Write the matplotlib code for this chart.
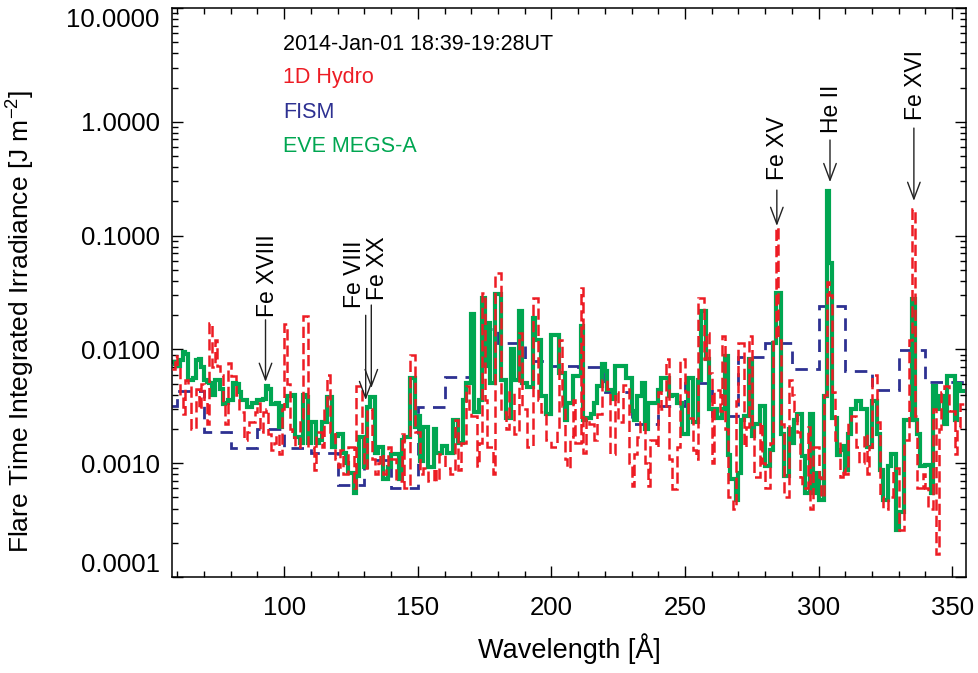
import numpy as np
import matplotlib
matplotlib.use("Agg")
import matplotlib.pyplot as plt
from matplotlib.ticker import FixedLocator, LogLocator, NullFormatter, MultipleLocator

plt.rcParams['font.family'] = ['Liberation Sans', 'DejaVu Sans']
plt.rcParams['mathtext.default'] = 'regular'

# ---------------- data ----------------
wl_start = 58  # first 1-A bin of the EVE / 1D Hydro spectra

eve_megs_a = [
    0.0077, 0.0075, 0.0072, 0.0080, 0.0095, 0.0092, 0.0054, 0.0054, 0.0056, 0.0080,
    0.0082, 0.0070, 0.0054, 0.0052, 0.0051, 0.0040, 0.0054, 0.0054, 0.0045, 0.0033,
    0.0034, 0.0036, 0.0036, 0.0051, 0.0050, 0.0042, 0.0036, 0.0036, 0.0031, 0.0031,
    0.0034, 0.0034, 0.0036, 0.0036, 0.0037, 0.0048, 0.0045, 0.0033, 0.0033, 0.0034,
    0.0021, 0.0032, 0.0032, 0.0039, 0.0039, 0.0040, 0.0017, 0.0017, 0.0015, 0.0040,
    0.0038, 0.0015, 0.0023, 0.0023, 0.0015, 0.0016, 0.0023, 0.0023, 0.0038, 0.0038,
    0.0014, 0.00175, 0.0018, 0.0018, 0.00123, 0.0010, 0.00082, 0.00082, 0.00055, 0.00078,
    0.0017, 0.0017, 0.00093, 0.0031, 0.0038, 0.0038, 0.00122, 0.0014, 0.0014, 0.00072,
    0.00072, 0.00093, 0.0012, 0.0012, 0.0012, 0.00072, 0.0016, 0.0017, 0.0017, 0.0056,
    0.0056, 0.0021, 0.0026, 0.00105, 0.0021, 0.0021, 0.00093, 0.00093, 0.0020, 0.00122,
    0.00122, 0.00141, 0.00141, 0.00123, 0.00123, 0.0024, 0.0024, 0.0015, 0.0015, 0.0036,
    0.0051, 0.0051, 0.0203, 0.0028, 0.0028, 0.0036, 0.0285, 0.0071, 0.017, 0.0051,
    0.0051, 0.0305, 0.0305, 0.0054, 0.0054, 0.0025, 0.0025, 0.010, 0.0054, 0.0054,
    0.0217, 0.0051, 0.0051, 0.0047, 0.0047, 0.019, 0.0122, 0.0122, 0.0039, 0.0039,
    0.0027, 0.0027, 0.0135, 0.0135, 0.0135, 0.0062, 0.0062, 0.0024, 0.0034, 0.0034,
    0.0058, 0.0058, 0.0058, 0.016, 0.0024, 0.0025, 0.0025, 0.0027, 0.0034, 0.0048,
    0.0048, 0.0074, 0.0064, 0.0044, 0.0044, 0.0037, 0.0072, 0.0072, 0.0072, 0.0072,
    0.0056, 0.0056, 0.0029, 0.0024, 0.0039, 0.0039, 0.0051, 0.0020, 0.0034, 0.0034,
    0.0034, 0.0034, 0.0044, 0.0056, 0.0056, 0.0056, 0.0039, 0.0040, 0.0040, 0.0034,
    0.0034, 0.0018, 0.0018, 0.0056, 0.0056, 0.0023, 0.0023, 0.0054, 0.0217, 0.0217,
    0.0082, 0.0030, 0.0030, 0.0030, 0.0025, 0.0025, 0.0030, 0.0087, 0.00119, 0.00072,
    0.00072, 0.00048, 0.00082, 0.0024, 0.0026, 0.0026, 0.0082, 0.00173, 0.0022, 0.0022,
    0.0032, 0.0032, 0.00094, 0.00094, 0.0013, 0.0114, 0.0316, 0.0316, 0.0018, 0.00077,
    0.00077, 0.0020, 0.0015, 0.0024, 0.0027, 0.0027, 0.00115, 0.00055, 0.00055, 0.0027,
    0.00055, 0.00082, 0.00048, 0.00048, 0.0039, 0.246, 0.058, 0.0025, 0.0025, 0.00118,
    0.0013, 0.00141, 0.00088, 0.0018, 0.0030, 0.0030, 0.0035, 0.0035, 0.0030, 0.0030,
    0.0014, 0.0014, 0.0035, 0.0035, 0.0018, 0.00088, 0.00048, 0.00048, 0.00094, 0.0012,
    0.0012, 0.00026, 0.00037, 0.00037, 0.0024, 0.0024, 0.0024, 0.0275, 0.0024, 0.0018,
    0.00094, 0.00094, 0.00096, 0.00096, 0.00055, 0.0048, 0.0030, 0.0039, 0.0039, 0.0022,
    0.0058, 0.0058, 0.0058, 0.0024, 0.0050, 0.0043, 0.0043,
]

hydro_1d = [
    0.0067, 0.0088, 0.0070, 0.0040, 0.0027, 0.0054, 0.0050, 0.0020, 0.0020, 0.0045,
    0.0030, 0.0050, 0.0035, 0.0022, 0.0171, 0.0070, 0.0122, 0.0071, 0.0060, 0.0033,
    0.0022, 0.0076, 0.0058, 0.0058, 0.0040, 0.0028, 0.0028, 0.0016, 0.0019, 0.0023,
    0.0023, 0.0028, 0.0034, 0.0019, 0.0028, 0.0030, 0.0018, 0.0013, 0.0015, 0.0018,
    0.0012, 0.0030, 0.0166, 0.0050, 0.0020, 0.0017, 0.0014, 0.0014, 0.0025, 0.0196,
    0.0196, 0.0014, 0.0014, 0.00088, 0.0019, 0.0019, 0.0014, 0.0030, 0.0060, 0.0019,
    0.0019, 0.0011, 0.00093, 0.0013, 0.0008, 0.0008, 0.0014, 0.0014, 0.0006, 0.0048,
    0.0048, 0.0017, 0.0009, 0.0030, 0.0030, 0.0011, 0.0008, 0.0010, 0.0012, 0.0008,
    0.0009, 0.0014, 0.0011, 0.0011, 0.0007, 0.0007, 0.0018, 0.0006, 0.0006, 0.0090,
    0.0090, 0.0019, 0.0019, 0.0008, 0.0009, 0.0009, 0.0007, 0.0007, 0.0009, 0.0007,
    0.0012, 0.0012, 0.0009, 0.0009, 0.0008, 0.0008, 0.0024, 0.00088, 0.0015, 0.0015,
    0.0048, 0.0028, 0.0026, 0.0026, 0.00094, 0.0015, 0.0316, 0.0036, 0.0014, 0.0014,
    0.0008, 0.0473, 0.0473, 0.0028, 0.0028, 0.0020, 0.0042, 0.0042, 0.0018, 0.0018,
    0.0140, 0.0030, 0.0030, 0.0014, 0.0014, 0.0285, 0.0285, 0.0036, 0.0028, 0.0028,
    0.0016, 0.0016, 0.0014, 0.0014, 0.0020, 0.0122, 0.0032, 0.0011, 0.0009, 0.0017,
    0.0036, 0.0015, 0.0015, 0.0348, 0.00124, 0.0025, 0.0022, 0.0022, 0.0016, 0.0027,
    0.0027, 0.0054, 0.0054, 0.0045, 0.0012, 0.0012, 0.0042, 0.0023, 0.0023, 0.0049,
    0.0049, 0.0010, 0.00063, 0.0012, 0.0017, 0.0023, 0.0023, 0.0010, 0.00063, 0.0016,
    0.0016, 0.0014, 0.0042, 0.0030, 0.0030, 0.0082, 0.0011, 0.00059, 0.00059, 0.0014,
    0.0082, 0.0082, 0.0042, 0.0025, 0.0025, 0.0013, 0.0011, 0.0285, 0.0285, 0.0082,
    0.0140, 0.0062, 0.0010, 0.0044, 0.0044, 0.0029, 0.0130, 0.0020, 0.00051, 0.00051,
    0.0004, 0.0035, 0.0115, 0.0115, 0.0014, 0.0021, 0.0130, 0.0021, 0.00075, 0.00075,
    0.0023, 0.0010, 0.0006, 0.0006, 0.0015, 0.0120, 0.120, 0.0120, 0.0022, 0.0005,
    0.0005, 0.0054, 0.0040, 0.0029, 0.0019, 0.00075, 0.0006, 0.0006, 0.0021, 0.0004,
    0.0014, 0.0014, 0.00075, 0.0005, 0.0040, 0.039, 0.030, 0.0042, 0.0016, 0.0016,
    0.00075, 0.0009, 0.0008, 0.0023, 0.0026, 0.0026, 0.0014, 0.0010, 0.0010, 0.0018,
    0.0008, 0.0014, 0.0060, 0.0060, 0.0023, 0.0005, 0.0004, 0.0004, 0.0005, 0.0005,
    0.0009, 0.0009, 0.00026, 0.00026, 0.0016, 0.0016, 0.0122, 0.170, 0.0026, 0.0006,
    0.0006, 0.0008, 0.0006, 0.0004, 0.0004, 0.0030, 0.00016, 0.0020, 0.0042, 0.0048,
    0.0048, 0.0029, 0.0029, 0.0012, 0.0021, 0.0033, 0.0033,
]

fism_edges = [50, 60, 70, 80, 90, 100, 110, 120, 130, 140, 150, 160, 170, 180, 190,
              200, 210, 220, 230, 240, 250, 260, 270, 280, 290, 300, 310, 320, 330,
              340, 350, 360]
fism = [0.0032, 0.0043, 0.0019, 0.00136, 0.0020, 0.00136, 0.00123, 0.00065, 0.00107,
        0.0006, 0.0031, 0.0057, 0.015, 0.0113, 0.0079, 0.0071, 0.0070, 0.0042, 0.0022,
        0.0032, 0.0051, 0.0026, 0.0085, 0.0115, 0.0067, 0.024, 0.0064, 0.0044, 0.0098,
        0.0052, 0.0052]

line_names = ['Fe XVIII', 'Fe VIII', 'Fe XX', 'Fe XV', 'He II', 'Fe XVI']
line_wl = [93.0, 130.5, 132.6, 284.4, 304.3, 335.7]

yticks = [1e-4, 1e-3, 1e-2, 1e-1, 1e0, 1e1]
ytick_labels = ['0.0001', '0.0010', '0.0100', '0.1000', '1.0000', '10.0000']
xticks = [100, 150, 200, 250, 300, 350]

RED = '#ed1c24'
BLUE = '#2e3192'
GREEN = '#00a651'

# ---------------- figure ----------------
fig = plt.figure(figsize=(9.79, 6.73), dpi=100)
ax = fig.add_axes([0.1757, 0.1426, 0.8110, 0.8455])

edges = wl_start + np.arange(len(eve_megs_a) + 1)
ax.stairs(fism, fism_edges, baseline=None, color=BLUE, lw=2.0,
          linestyle=(0, (4.5, 3.0)), zorder=1)
ax.stairs(eve_megs_a, edges, baseline=None, color=GREEN, lw=3.0, zorder=2)
ax.stairs(hydro_1d, edges, baseline=None, color=RED, lw=1.8,
          linestyle=(0, (4.5, 2.0)), zorder=3)

ax.set_yscale('log')
ax.set_xlim(58, 355.2)
ax.set_ylim(1e-4, 1e1)

ax.yaxis.set_major_locator(FixedLocator(yticks))
ax.set_yticklabels(ytick_labels)
ax.yaxis.set_minor_locator(LogLocator(base=10, subs=np.arange(2, 10)))
ax.yaxis.set_minor_formatter(NullFormatter())
ax.xaxis.set_major_locator(FixedLocator(xticks))
ax.xaxis.set_minor_locator(MultipleLocator(10))

ax.tick_params(which='both', direction='in', top=True, right=True, width=1.0)
ax.tick_params(which='major', length=8)
ax.tick_params(which='minor', length=4)
ax.tick_params(axis='y', which='major', labelsize=18.5, pad=9)
ax.tick_params(axis='x', which='major', labelsize=18.5, pad=14)
for sp in ax.spines.values():
    sp.set_linewidth(1.1)

ylabs = ax.get_yticklabels()
ylabs[0].set_va('bottom')
ylabs[-1].set_va('top')

ax.set_xlabel('Wavelength [Å]', fontsize=19.5)
ax.xaxis.set_label_coords(0.5, -0.099)
ax.set_ylabel('Flare Time Integrated Irradiance [J m$^{-2}$]', fontsize=19)
ax.yaxis.set_label_coords(-0.170, 0.45)

# legend-like texts
ax.text(0.14, 0.935, '2014-Jan-01 18:39-19:28UT', transform=ax.transAxes,
        fontsize=15.5, color='black', va='center', ha='left')
ax.text(0.14, 0.877, '1D Hydro', transform=ax.transAxes, fontsize=15.5,
        color=RED, va='center', ha='left')
ax.text(0.14, 0.817, 'FISM', transform=ax.transAxes, fontsize=15.5,
        color=BLUE, va='center', ha='left')
ax.text(0.14, 0.757, 'EVE MEGS-A', transform=ax.transAxes, fontsize=15.5,
        color=GREEN, va='center', ha='left')

# line identifications (text x, text bottom y frac, arrow start frac, arrow tip frac)
trans = ax.get_xaxis_transform()
text_x = [93.9, 126.4, 134.8, 284.8, 304.9, 336.4]
text_y = [0.457, 0.473, 0.487, 0.698, 0.780, 0.803]
arr_from = [0.452, 0.460, 0.478, 0.680, 0.768, 0.789]
arr_to = [0.343, 0.311, 0.332, 0.617, 0.694, 0.661]
for name, lw_, tx, ty, a0, a1 in zip(line_names, line_wl, text_x, text_y, arr_from, arr_to):
    ax.text(tx, ty, name, transform=trans, rotation=90, fontsize=16.5,
            ha='center', va='bottom', color='black')
    ax.annotate('', xy=(lw_, a1), xycoords=trans, xytext=(lw_, a0), textcoords=trans,
                arrowprops=dict(arrowstyle='->,head_length=1.2,head_width=0.45',
                                lw=1.0, color='#222222', mutation_scale=10,
                                shrinkA=0, shrinkB=0))

fig.savefig('out.png', dpi=100)
